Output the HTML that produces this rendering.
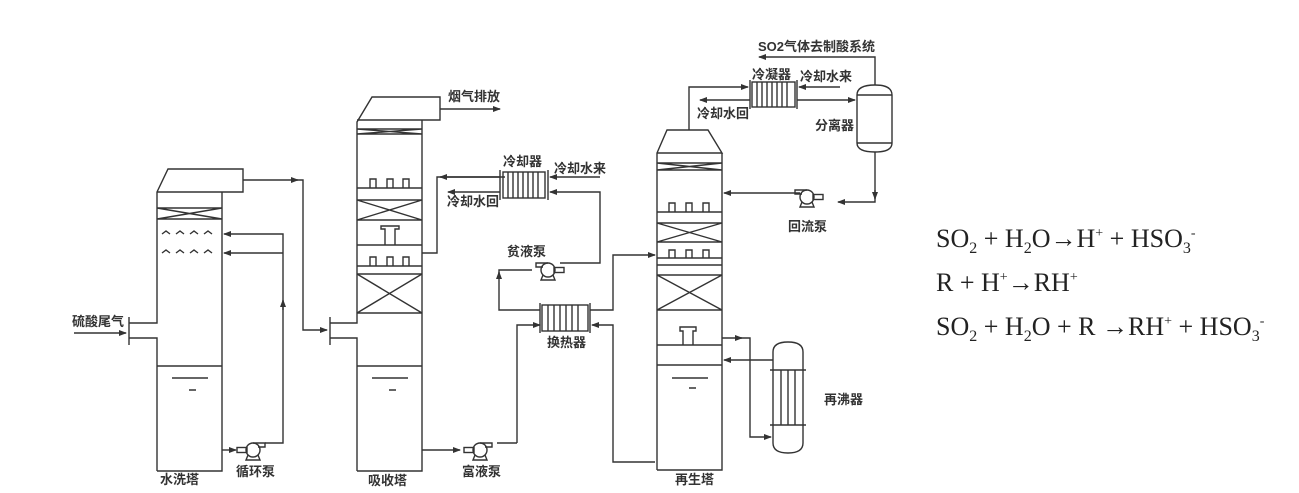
<!DOCTYPE html>
<html><head><meta charset="utf-8"><style>
html,body{margin:0;padding:0;background:#fff;}
svg{display:block}
.l{stroke:#333;stroke-width:1.4;fill:none}
.t{font-family:"Liberation Sans","Noto Sans CJK SC",sans-serif;font-size:13px;fill:#333;font-weight:600}
.eq{font-family:"Liberation Serif",serif;font-size:26px;fill:#222}
</style></head><body>
<svg width="1299" height="493" viewBox="0 0 1299 493" xmlns="http://www.w3.org/2000/svg">
<defs>
<marker id="a" markerWidth="8" markerHeight="6" refX="7" refY="3" orient="auto" markerUnits="userSpaceOnUse"><path d="M0,0 L8,3 L0,6z" fill="#333"/></marker>
<g id="pump"><circle cx="0" cy="0" r="7" class="l"/><rect x="-16" y="-2.5" width="10" height="5" class="l"/><path d="M0,-7 H12 V-3 H5" class="l"/><path d="M-5,5 L-7,10 H7 L5,5" class="l"/></g>
</defs>
<g class="l">
<path d="M157,471 V338 H129 M129,323 H157 V192 L168,169 H243 V192 H157 M222,192 V471 H157"/>
<path d="M129,317 V345"/>
<path d="M157,366 H222 M172,378 H208 M189,390 H196"/>
<path d="M157,208 H222 M157,219 H222 M157,208 L222,219 M157,219 L222,208"/>
<path d="M162,234 l4,-3 l4,3 M176,234 l4,-3 l4,3 M190,234 l4,-3 l4,3 M204,234 l4,-3 l4,3"/>
<path d="M162,253 l4,-3 l4,3 M176,253 l4,-3 l4,3 M190,253 l4,-3 l4,3 M204,253 l4,-3 l4,3"/>
<path d="M74,333 H126" marker-end="url(#a)"/>
<path d="M222,450 H236" marker-end="url(#a)"/>
<path d="M265,443 H283 V234 H224" marker-end="url(#a)"/>
<path d="M283,253 H224" marker-end="url(#a)"/>
<path d="M283,310 V300" marker-end="url(#a)"/>
<path d="M243,180 H303 V330 H327" marker-end="url(#a)"/>
<path d="M296,180 h2" marker-end="url(#a)"/>
<path d="M357,471 V338 H330 M330,323 H357 V122 L372,97 H440 V120 H357 M422,120 V471 H357"/>
<path d="M330,317 V345"/>
<path d="M357,366 H422 M372,378 H408 M389,390 H396"/>
<path d="M357,129 H422 M357,134 H422 M357,129 L422,134 M357,134 L422,129"/>
<path d="M370,188 V179 H376 V188 M387,188 V179 H393 V188 M403,188 V179 H409 V188"/>
<path d="M357,188 H422 M357,200 H422 M357,220 H422 M357,200 L422,220 M357,220 L422,200"/>
<path d="M385,245 V229 H381 V226 H399 V229 H395 V245"/>
<path d="M357,245 H422 M357,266 H422 M357,274 H422"/>
<path d="M370,266 V257 H376 V266 M387,266 V257 H393 V266 M403,266 V257 H409 V266"/>
<path d="M357,313 H422 M357,274 L422,313 M357,313 L422,274"/>
<path d="M440,109 H500" marker-end="url(#a)"/>
<path d="M422,450 H460" marker-end="url(#a)"/>
<path d="M500,177 H437 V253 H422" />
<path d="M505,177 H440" marker-end="url(#a)"/>
<rect x="503" y="172" width="42" height="26"/>
<path d="M500,170 V200 M548,170 V200 M508,172 V198 M513,172 V198 M518,172 V198 M523,172 V198 M528,172 V198 M533,172 V198 M538,172 V198"/>
<path d="M600,177 H550" marker-end="url(#a)"/>
<path d="M500,192 H448" marker-end="url(#a)"/>
<path d="M560,263 H600 V192 H550" marker-end="url(#a)"/>
<path d="M532,270 H499 V310 H540" />
<path d="M499,278 V272" marker-end="url(#a)"/>
<rect x="542" y="305" width="46" height="26"/>
<path d="M540,303 V333 M590,303 V333 M548,305 V331 M554,305 V331 M560,305 V331 M566,305 V331 M572,305 V331 M578,305 V331"/>
<path d="M590,310 H613 V255 H655" marker-end="url(#a)"/>
<path d="M517,443 V325 H540" marker-end="url(#a)"/>
<path d="M655,462 H613 V325 H592" marker-end="url(#a)"/>
<path d="M497,443 H517" />
<path d="M657,470 V153 L667,130 H708 L722,153 H657 M722,153 V470 H657"/>
<path d="M657,163 H722 M657,170 H722 M657,163 L722,170 M657,170 L722,163"/>
<path d="M669,212 V203 H675 V212 M686,212 V203 H692 V212 M703,212 V203 H709 V212"/>
<path d="M657,212 H722 M657,223 H722 M657,242 H722 M657,223 L722,242 M657,242 L722,223"/>
<path d="M669,258 V250 H675 V258 M686,258 V250 H692 V258 M703,258 V250 H709 V258"/>
<path d="M657,258 H722 M657,265 H722 M657,275 H722 M657,310 H722 M657,275 L722,310 M657,310 L722,275"/>
<path d="M683,345 V331 H680 V327 H696 V331 H693 V345"/>
<path d="M657,345 H722 M657,365 H722 M672,378 H708 M689,388 H696"/>
<path d="M773,352 Q773,342 788,342 Q803,342 803,352 V443 Q803,453 788,453 Q773,453 773,443 Z"/>
<path d="M770,370 H806 M770,425 H806 M781,370 V425 M788,370 V425 M795,370 V425"/>
<path d="M722,338 H750 V437 H771" marker-end="url(#a)"/>
<path d="M740,338 h2" marker-end="url(#a)"/>
<path d="M773,360 H724" marker-end="url(#a)"/>
<path d="M689,130 V87 H748" marker-end="url(#a)"/>
<rect x="752" y="82" width="43" height="25"/>
<path d="M750,80 V109 M797,80 V109 M757,82 V107 M762,82 V107 M767,82 V107 M772,82 V107 M777,82 V107 M782,82 V107 M787,82 V107"/>
<path d="M840,87 H799" marker-end="url(#a)"/>
<path d="M750,100 H700" marker-end="url(#a)"/>
<path d="M797,100 H855" marker-end="url(#a)"/>
<path d="M857,95 Q857,85 875,85 Q892,85 892,95 V143 Q892,152 875,152 Q857,152 857,143 Z"/>
<path d="M857,95 H892 M857,143 H892"/>
<path d="M875,85 V57 H759" marker-end="url(#a)"/>
<path d="M875,152 V202 H838" marker-end="url(#a)"/>
<path d="M875,190 V199" marker-end="url(#a)"/>
<path d="M800,193 H724" marker-end="url(#a)"/>
</g>
<use href="#pump" x="253" y="450"/>
<use href="#pump" x="480" y="450"/>
<use href="#pump" x="548" y="270" transform="translate(1096,0) scale(-1,1)"/>
<use href="#pump" x="807" y="197" transform="translate(1614,0) scale(-1,1)"/>
<g class="t">
<text x="72" y="326">硫酸尾气</text>
<text x="160" y="484">水洗塔</text>
<text x="236" y="476">循环泵</text>
<text x="368" y="485">吸收塔</text>
<text x="462" y="476">富液泵</text>
<text x="448" y="101">烟气排放</text>
<text x="503" y="166">冷却器</text>
<text x="554" y="173">冷却水来</text>
<text x="447" y="206">冷却水回</text>
<text x="507" y="256">贫液泵</text>
<text x="547" y="347">换热器</text>
<text x="675" y="484">再生塔</text>
<text x="824" y="404">再沸器</text>
<text x="788" y="231">回流泵</text>
<text x="815" y="130">分离器</text>
<text x="752" y="79">冷凝器</text>
<text x="800" y="81">冷却水来</text>
<text x="697" y="118">冷却水回</text>
<text x="758" y="51">SO2气体去制酸系统</text>
</g>
<g class="eq">
<text x="936" y="247">SO<tspan font-size="16" dy="6">2</tspan><tspan dy="-6"> + H</tspan><tspan font-size="16" dy="6">2</tspan><tspan dy="-6">O→H</tspan><tspan font-size="14" dy="-10">+</tspan><tspan dy="10"> + HSO</tspan><tspan font-size="16" dy="6">3</tspan><tspan font-size="14" dy="-16">-</tspan></text>
<text x="936" y="291">R + H<tspan font-size="14" dy="-10">+</tspan><tspan dy="10">→RH</tspan><tspan font-size="14" dy="-10">+</tspan></text>
<text x="936" y="335">SO<tspan font-size="16" dy="6">2</tspan><tspan dy="-6"> + H</tspan><tspan font-size="16" dy="6">2</tspan><tspan dy="-6">O + R →RH</tspan><tspan font-size="14" dy="-10">+</tspan><tspan dy="10"> + HSO</tspan><tspan font-size="16" dy="6">3</tspan><tspan font-size="14" dy="-16">-</tspan></text>
</g>
</svg>
</body></html>
